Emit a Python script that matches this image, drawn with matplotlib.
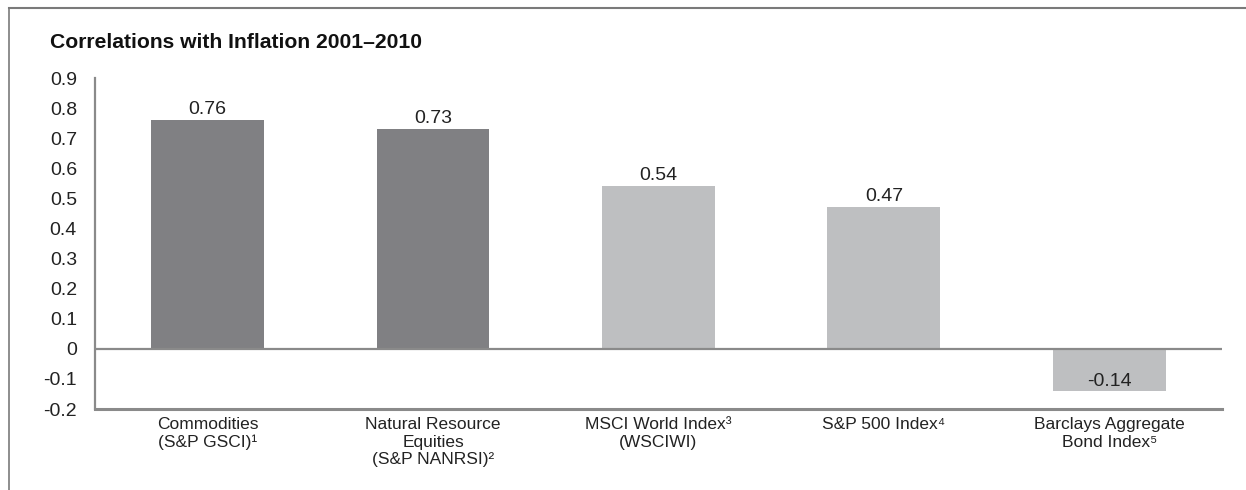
import matplotlib.pyplot as plt
from matplotlib.lines import Line2D

plt.rcParams['font.family'] = ['Liberation Sans', 'DejaVu Sans']

categories = ['Commodities\n(S&P GSCI)¹',
              'Natural Resource\nEquities\n(S&P NANRSI)²',
              'MSCI World Index³\n(WSCIWI)',
              'S&P 500 Index⁴',
              'Barclays Aggregate\nBond Index⁵']
values = [0.76, 0.73, 0.54, 0.47, -0.14]
labels = ['0.76', '0.73', '0.54', '0.47', '-0.14']
bar_colors = ['#808083', '#808083', '#bebfc1', '#bebfc1', '#bebfc1']
yticks = [0.9, 0.8, 0.7, 0.6, 0.5, 0.4, 0.3, 0.2, 0.1, 0, -0.1, -0.2]
ytick_labels = ['0.9', '0.8', '0.7', '0.6', '0.5', '0.4', '0.3', '0.2', '0.1', '0', '-0.1', '-0.2']

fig = plt.figure(figsize=(12.46, 4.9), dpi=100)
ax = fig.add_axes([0.0762, 0.1653, 0.9807 - 0.0762, 0.8408 - 0.1653])

x = range(len(values))
ax.bar(x, values, width=0.5, color=bar_colors, zorder=2)
ax.axhline(0, color='#8a8a8a', lw=1.6, zorder=3)

for i, (v, lab) in enumerate(zip(values, labels)):
    ax.annotate(lab, (i, v), xytext=(0, 1.5 if v > 0 else 0.5), textcoords='offset points',
                ha='center', va='bottom', fontsize=14, color='#222222', zorder=4)

ax.set_xlim(-0.5, 4.5)
ax.set_ylim(-0.2, 0.9)
ax.set_yticks(yticks)
ax.set_yticklabels(ytick_labels, fontsize=14, color='#222222')
ax.set_xticks(list(x))
ax.set_xticklabels(categories, fontsize=12.5, color='#222222', linespacing=1.2, va='top')
ax.tick_params(axis='both', length=0)
ax.tick_params(axis='y', pad=13)
ax.tick_params(axis='x', pad=6)

for s in ['top', 'right']:
    ax.spines[s].set_visible(False)
ax.spines['left'].set_color('#8a8a8a')
ax.spines['left'].set_linewidth(1.6)
ax.spines['bottom'].set_color('#8a8a8a')
ax.spines['bottom'].set_linewidth(2.2)

fig.text(50 / 1246, 1 - 43 / 490, 'Correlations with Inflation 2001–2010',
         fontsize=15.2, fontweight='bold', va='center', ha='left', color='#111111')

# outer frame: top and left rules
fig.add_artist(Line2D([9 / 1246, 1.0], [1 - 8.5 / 490, 1 - 8.5 / 490],
                      transform=fig.transFigure, color='#7a7a7a', lw=1.5))
fig.add_artist(Line2D([9 / 1246, 9 / 1246], [0, 1 - 8.5 / 490],
                      transform=fig.transFigure, color='#7a7a7a', lw=1.2))

fig.savefig('out.png', dpi=100)
